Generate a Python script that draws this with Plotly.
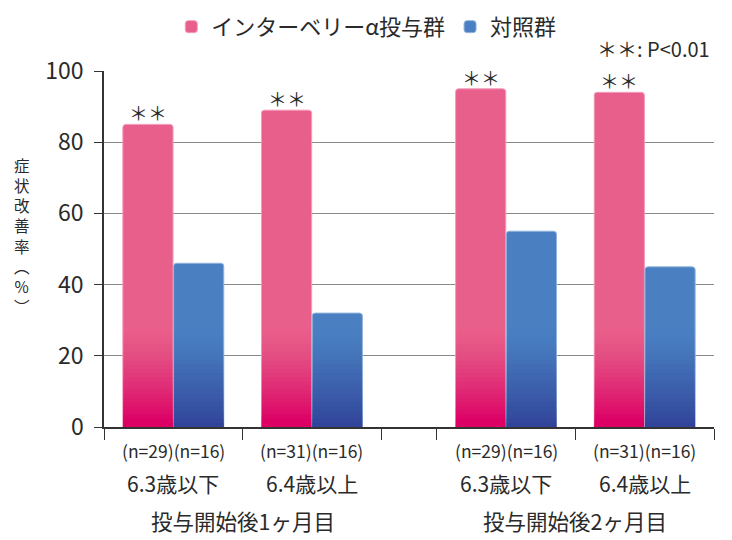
import plotly.graph_objects as go

# ---- data ----
groups = ["6.3歳以下", "6.4歳以上", "6.3歳以下", "6.4歳以上"]
n_labels = ["(n=29)(n=16)", "(n=31)(n=16)", "(n=29)(n=16)", "(n=31)(n=16)"]
periods = ["投与開始後1ヶ月目", "投与開始後2ヶ月目"]
treat_name = "インターベリーα投与群"
ctrl_name = "対照群"
treat_vals = [85, 89, 95, 94]
ctrl_vals = [46, 32, 55, 45]
sig = ["＊＊", "＊＊", "＊＊", "＊＊"]
y_ticks = [0, 20, 40, 60, 80, 100]
y_title = "症状改善率(%)"
note = "＊＊: P<0.01"

# ---- styling ----
FONT = "Noto Sans CJK JP, Noto Sans, sans-serif"
TXT = "#2a2a2a"
PINK_TOP, PINK_BOT = "#E95F8B", (228, 0, 108)
BLUE_TOP, BLUE_BOT = "#4A80C2", (58, 74, 158)
GAP = 0.4          # extra space between the two periods (category units)
BW = 0.362         # bar width
GRAD_H = 28        # height (in %) over which the bottom gradient runs
N_LAYERS = 24
GRAD_P = 1.5       # gradient easing exponent

centers = [i + 0.5 + (GAP if i >= 2 else 0) for i in range(len(groups))]
bounds = [0, 1, 2, 2 + GAP, 3 + GAP, 4 + GAP]

# per-layer opacities giving cumulative alpha (1 - y/H)^p
targets = [(1 - (k - 0.5) / N_LAYERS) ** GRAD_P for k in range(1, N_LAYERS + 1)]
layer_alpha = [0.0] * N_LAYERS
above = 0.0
for k in range(N_LAYERS, 0, -1):
    A = targets[k - 1]
    layer_alpha[k - 1] = 1 - (1 - A) / (1 - above)
    above = A

fig = go.Figure()

def add_series(vals, name, top, bot, line_col, offset):
    fig.add_trace(go.Bar(
        x=centers, y=vals, name=name, width=BW, offset=offset,
        marker=dict(color=top, line=dict(color=line_col, width=1), cornerradius=3),
        hovertemplate="%{y}%<extra>" + name + "</extra>",
    ))
    for k in range(1, N_LAYERS + 1):
        h = GRAD_H * k / N_LAYERS
        a = layer_alpha[k - 1]
        fig.add_trace(go.Bar(
            x=centers, y=[min(v, h) for v in vals], width=BW - 0.004, offset=offset + 0.002,
            marker=dict(color=f"rgba({bot[0]},{bot[1]},{bot[2]},{a:.4f})", line=dict(width=0)),
            showlegend=False, hoverinfo="skip",
        ))

add_series(treat_vals, treat_name, PINK_TOP, PINK_BOT, "#F39BBB", -BW - 0.002)
add_series(ctrl_vals, ctrl_name, BLUE_TOP, BLUE_BOT, "#93B4DE", 0.002)

ann = []
for c, v, s in zip(centers, treat_vals, sig):
    ann.append(dict(x=c - BW / 2 - 0.002, y=v, xref="x", yref="y", text=s, showarrow=False,
                    yanchor="bottom", yshift=-4, font=dict(size=19, color=TXT, family=FONT)))
for c, nl, g in zip(centers, n_labels, groups):
    ann.append(dict(x=c, y=0, xref="x", yref="paper", text=nl, showarrow=False,
                    yanchor="middle", yshift=-23, font=dict(size=17.5, color=TXT, family=FONT)))
    ann.append(dict(x=c, y=0, xref="x", yref="paper", text=g, showarrow=False,
                    yanchor="middle", yshift=-56, font=dict(size=21, color=TXT, family=FONT)))
for i, p in enumerate(periods):
    ann.append(dict(x=(centers[2 * i] + centers[2 * i + 1]) / 2, y=0, xref="x", yref="paper",
                    text=p, showarrow=False, yanchor="middle", yshift=-93,
                    font=dict(size=21.5, color=TXT, family=FONT)))
ann.append(dict(x=1, y=1, xref="paper", yref="paper", text=note, showarrow=False,
                xanchor="right", yanchor="middle", xshift=-2, yshift=23,
                font=dict(size=20, color=TXT, family=FONT)))
vert = {"(": "︵", ")": "︶"}
ann.append(dict(x=0, y=0.5, xref="paper", yref="paper",
                text="<br>".join(vert.get(ch, ch) for ch in y_title),
                showarrow=False, xanchor="center", yanchor="middle", xshift=-82, yshift=14,
                font=dict(size=15.5, color=TXT, family=FONT)))

# the page body adds an 8px offset, so the figure is 8px smaller on each side
fig.update_layout(
    width=724, height=532,
    margin=dict(l=96, r=18, t=63, b=113, autoexpand=False),
    paper_bgcolor="white", plot_bgcolor="white",
    barmode="overlay",
    font=dict(family=FONT, color=TXT),
    showlegend=True,
    legend=dict(orientation="h", x=0.43, xanchor="center", y=1.124, yanchor="middle",
                font=dict(size=22, color=TXT, family=FONT), itemwidth=30,
                traceorder="normal", bgcolor="rgba(0,0,0,0)"),
    annotations=ann,
    xaxis=dict(range=[bounds[0], bounds[-1]], tickmode="array", tickvals=bounds,
               showticklabels=False, ticks="outside", ticklen=11, tickwidth=1.3, tickcolor="#333",
               showline=True, linecolor="#333", linewidth=1.5, showgrid=False, zeroline=False,
               fixedrange=True),
    yaxis=dict(range=[0, 100], tickmode="array", tickvals=y_ticks, ticks="outside",
               ticklen=8, tickwidth=1.3, tickcolor="#333", showline=True, linecolor="#333",
               linewidth=1.5, showgrid=True, gridcolor="#8a8a8a", gridwidth=1, zeroline=False,
               tickfont=dict(size=23, color=TXT, family=FONT), ticklabelstandoff=6,
               fixedrange=True),
)

fig.write_html("out.html")
